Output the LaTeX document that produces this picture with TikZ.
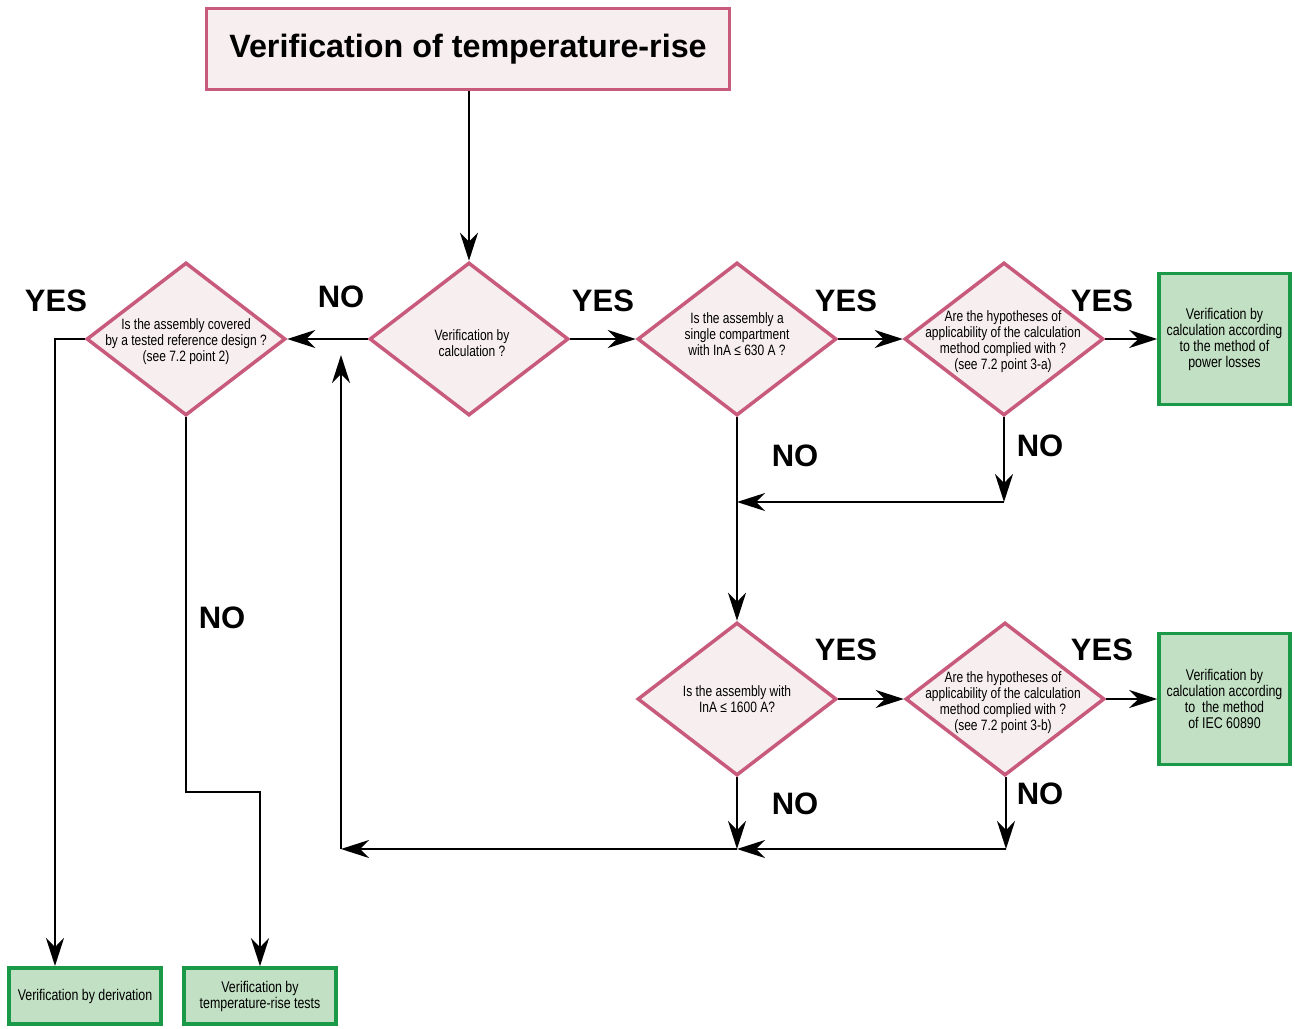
\documentclass[tikz,border=0pt]{standalone}
\usepackage{fontspec}
\setmainfont{Liberation Sans}
\newfontfamily\narrowfont{Liberation Sans}[FakeStretch=0.8]
\usetikzlibrary{shapes.geometric,arrows.meta}
\definecolor{pinkline}{HTML}{C85B7B}
\definecolor{pinkfill}{HTML}{F7EEF0}
\definecolor{greenline}{HTML}{1A9A48}
\definecolor{greenfill}{HTML}{C2E0C3}
\begin{document}
\begin{tikzpicture}[x=1pt,y=-1pt,
 dia/.style={diamond, draw=pinkline, fill=pinkfill, line width=3.5pt, minimum width=199pt, minimum height=153pt, inner sep=0pt},
 dtext/.style={font=\narrowfont\fontsize{15}{16}\selectfont, align=center, inner sep=0pt},
 gbox/.style={draw=greenline, fill=greenfill, line width=3.5pt, font=\narrowfont\fontsize{15.5}{16}\selectfont, align=center, inner sep=0pt},
 lab/.style={font=\bfseries\fontsize{31}{31}\selectfont, inner sep=0pt},
 arr/.style={line width=2pt, -{Stealth[length=28pt,width=18pt,inset=9pt]}}]
\useasboundingbox (0,0) rectangle (1295,1028);

% title
\node[draw=pinkline, fill=pinkfill, line width=3pt, minimum width=523pt, minimum height=81pt,
      font=\bfseries\fontsize{32.3}{33}\selectfont, inner sep=0pt] (title) at (468,49) {Verification of temperature-rise};

% diamonds
\node[dia] (d1) at (469,339) {};
\node[dtext] (d1t) at (472,343) {Verification by\\calculation ?};
\node[dia] (d2) at (186,339) {};
\node[dtext] (d2t) at (186,342) {Is the assembly covered\\by a tested reference design ?\\(see 7.2 point 2)};
\node[dia] (d3) at (737,339) {};
\node[dtext] (d3t) at (737,334) {Is the assembly a\\single compartment\\with InA ≤ 630 A ?};
\node[dia] (d4) at (1004,339) {};
\node[dtext] (d4t) at (1003,342) {Are the hypotheses of\\applicability of the calculation\\method complied with ?\\(see 7.2 point 3-a)};
\node[dia] (d5) at (737,699) {};
\node[dtext] (d5t) at (737,699) {Is the assembly with\\InA ≤ 1600 A?};
\node[dia] (d6) at (1005,699) {};
\node[dtext] (d6t) at (1003,703) {Are the hypotheses of\\applicability of the calculation\\method complied with ?\\(see 7.2 point 3-b)};

% green boxes
\node[gbox, minimum width=131pt, minimum height=131pt] (g1) at (1224.5,339) {Verification by\\calculation according\\to the method of\\power losses};
\node[gbox, minimum width=131pt, minimum height=131pt] (g2) at (1224.5,699) {Verification by\\calculation according\\to\ \ the method\\of IEC 60890};
\node[gbox, minimum width=152pt, minimum height=56pt] (g3) at (85,996) {Verification by derivation};
\node[gbox, minimum width=152pt, minimum height=56pt] (g4) at (260,996) {Verification by\\temperature-rise tests};

% labels
\node[lab] (y1) at (56,301) {YES};
\node[lab] (n1) at (341,297) {NO};
\node[lab] (y2) at (603,301) {YES};
\node[lab] (y3) at (846,301) {YES};
\node[lab] (y4) at (1102,301) {YES};
\node[lab] (n3) at (795,456) {NO};
\node[lab] (n4) at (1040,446) {NO};
\node[lab] (n2) at (222,618) {NO};
\node[lab] (y5) at (846,650) {YES};
\node[lab] (y6) at (1102,650) {YES};
\node[lab] (n5) at (795,804) {NO};
\node[lab] (n6) at (1040,794) {NO};

% helper coordinates
\coordinate (c1) at (1004,502);
\coordinate (j1) at (737,502);
\coordinate (b1) at (186,792);
\coordinate (j2) at (737,849);
\coordinate (c2) at (1006,849);
\coordinate (c3) at (341,849);
\coordinate (c4) at (341,355);
\coordinate (g3in) at (55,966);

% connectors
\draw[arr] (d1.north |- title.south) -- (d1.north);
\draw[arr] (d1.west) -- (d2.east);
\draw[arr] (d1.east) -- (d3.west);
\draw[arr] (d3.east) -- (d4.west);
\draw[arr] (d4.east) -- (g1.west);
\draw[arr] (d2.west) -| (g3in);
\draw[arr] (d2.south) -- (b1) -| (g4.north);
\draw[arr] (d3.south) -- (d5.north);
\draw[arr] (d4.south) -- (c1);
\draw[arr] (c1) -- (j1);
\draw[arr] (d5.east) -- (d6.west);
\draw[arr] (d6.east) -- (g2.west);
\draw[arr] (d5.south) -- (j2);
\draw[arr] (d6.south -| c2) -- (c2);
\draw[arr] (c2) -- (j2);
\draw[arr] (j2) -- (c3);
\draw[arr] (c3) -- (c4);
\end{tikzpicture}
\end{document}
